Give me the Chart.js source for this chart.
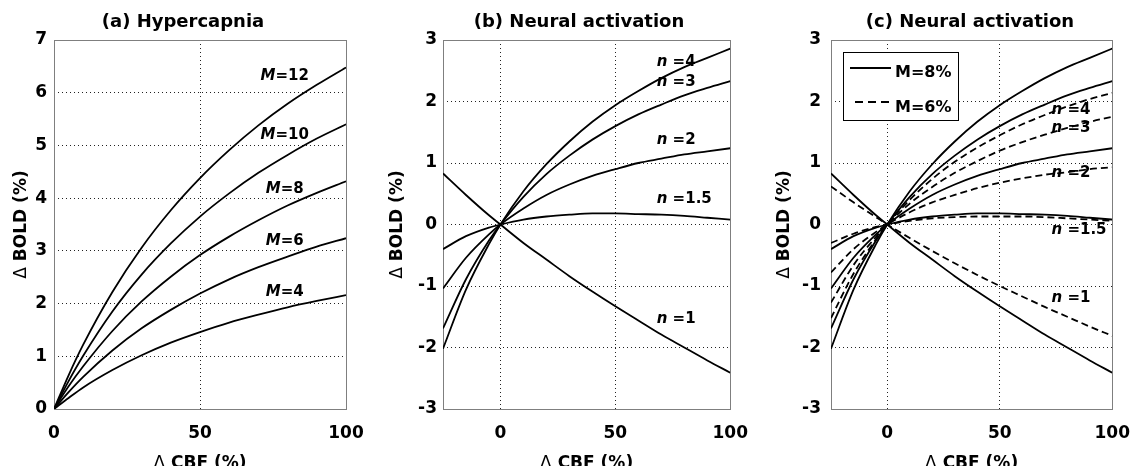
<!DOCTYPE html>
<html>
<head>
<meta charset="utf-8">
<script src="https://cdn.jsdelivr.net/npm/chart.js@4.4.1/dist/chart.umd.min.js"></script>
<style>
  html, body { margin: 0; padding: 0; background: #fff; }
  body { width: 1144px; height: 466px; position: relative; overflow: hidden; }
  canvas { position: absolute; top: 0; }
</style>
</head>
<body>
<canvas id="panelA" width="381" height="466" style="left:0px"></canvas>
<canvas id="panelB" width="381" height="466" style="left:381px"></canvas>
<canvas id="panelC" width="382" height="466" style="left:762px"></canvas>
<script>
// =========================
// DATA
// =========================
// (a) hypercapnia: delta CBF (%) vs delta BOLD (%) for several M
const cbfA = [0, 5, 10, 20, 30, 40, 50, 60, 70, 80, 90, 100];
const boldM4 = [0, 0.21, 0.41, 0.74, 1.02, 1.26, 1.46, 1.64, 1.79, 1.93, 2.05, 2.16];
const boldM6 = [0, 0.32, 0.61, 1.11, 1.53, 1.88, 2.19, 2.46, 2.69, 2.89, 3.08, 3.24];
const boldM8 = [0, 0.43, 0.81, 1.48, 2.04, 2.51, 2.92, 3.27, 3.58, 3.86, 4.10, 4.32];
const boldM10 = [0, 0.53, 1.01, 1.85, 2.55, 3.14, 3.65, 4.09, 4.48, 4.82, 5.13, 5.40];
const boldM12 = [0, 0.64, 1.22, 2.22, 3.06, 3.77, 4.38, 4.91, 5.38, 5.79, 6.15, 6.48];

// (b), (c) neural activation: curves for coupling ratio n
const cbfB = [-25, -15, -5, 0, 10, 20, 30, 40, 50, 60, 70, 80, 90, 100];
// M = 8%
const n1M8 = [0.83, 0.48, 0.15, 0, -0.30, -0.57, -0.84, -1.09, -1.33, -1.56, -1.79, -2.00, -2.21, -2.41];
const n15M8 = [-0.40, -0.19, -0.05, 0, 0.08, 0.13, 0.16, 0.18, 0.18, 0.17, 0.16, 0.14, 0.11, 0.08];
const n2M8 = [-1.04, -0.54, -0.16, 0, 0.26, 0.48, 0.65, 0.79, 0.90, 1.00, 1.07, 1.14, 1.19, 1.24];
const n3M8 = [-1.69, -0.89, -0.26, 0, 0.45, 0.82, 1.12, 1.38, 1.60, 1.79, 1.95, 2.10, 2.22, 2.33];
const n4M8 = [-2.02, -1.06, -0.32, 0, 0.54, 0.98, 1.35, 1.67, 1.94, 2.17, 2.38, 2.56, 2.71, 2.86];
// M = 6%
const n1M6 = [0.62, 0.36, 0.12, 0, -0.22, -0.43, -0.63, -0.82, -1.00, -1.17, -1.34, -1.50, -1.66, -1.81];
const n15M6 = [-0.30, -0.15, -0.04, 0, 0.06, 0.10, 0.12, 0.13, 0.13, 0.13, 0.12, 0.10, 0.08, 0.06];
const n2M6 = [-0.78, -0.40, -0.12, 0, 0.20, 0.36, 0.48, 0.59, 0.68, 0.75, 0.81, 0.85, 0.90, 0.93];
const n3M6 = [-1.27, -0.66, -0.20, 0, 0.34, 0.61, 0.84, 1.03, 1.20, 1.34, 1.46, 1.57, 1.67, 1.75];
const n4M6 = [-1.52, -0.80, -0.24, 0, 0.40, 0.74, 1.02, 1.25, 1.45, 1.63, 1.78, 1.92, 2.04, 2.14];

// tick labels
const xTicksA = [0, 50, 100];
const yTicksA = [0, 1, 2, 3, 4, 5, 6, 7];
const xTicksB = [0, 50, 100];
const yTicksB = [-3, -2, -1, 0, 1, 2, 3];

// curve labels (text + anchor in data units)
const labelsA = ["12", "10", "8", "6", "4"];
const labelXA = [79, 79, 79, 79, 79];
const labelYA = [6.31, 5.19, 4.18, 3.19, 2.22];
const labelsN = ["4", "3", "2", "1.5", "1"];
const labelXB = [68, 68, 68, 68, 68];
const labelYB = [2.64, 2.31, 1.37, 0.42, -1.54];
const labelXC = [73, 73, 73, 73, 73];
const labelYC = [1.86, 1.56, 0.83, -0.09, -1.20];

const legendNames = ["M=8%", "M=6%"];

// =========================
// HELPERS
// =========================
const FAMILY = '"DejaVu Sans", sans-serif';
const font = (size, style) => (style || "") + " bold " + size + "px " + FAMILY;

const pts = (xs, ys) => xs.map((x, i) => ({ x: x, y: ys[i] }));

const curve = (xs, ys, dashed) => ({
    data: pts(xs, ys),
    borderColor: "#000",
    borderWidth: 1.8,
    borderDash: dashed ? [7, 4] : [],
    pointRadius: 0,
    fill: false,
    cubicInterpolationMode: "monotone"
});

// draw a run of text pieces with different fonts
const drawParts = (ctx, parts, x, y, align) => {
    let total = 0;
    parts.forEach(p => { ctx.font = p.font; p.w = ctx.measureText(p.text).width; total += p.w; });
    let cx = align === "center" ? x - total / 2 : x;
    ctx.textAlign = "left";
    parts.forEach(p => { ctx.font = p.font; ctx.fillText(p.text, cx, y); cx += p.w; });
};

const axisCfg = (min, max, ticks, pad, fitSize, horizontal) => ({
    type: "linear",
    min: min,
    max: max,
    afterBuildTicks: s => { s.ticks = ticks.map(v => ({ value: v })); },
    afterFit: s => { if (horizontal) s.height = fitSize; else s.width = fitSize; },
    ticks: {
        color: "#000",
        padding: pad,
        autoSkip: false,
        maxRotation: 0,
        font: { family: FAMILY, size: 17, weight: "bold" }
    },
    grid: {
        drawTicks: false,
        lineWidth: 1,
        color: c => (c.tick && (c.tick.value === min || c.tick.value === max)) ? "rgba(0,0,0,0)" : "#222"
    },
    border: { display: false, dash: [1, 3] }
});

// titles, frame, curve labels, legend
const panelDecor = {
    id: "panelDecor",
    beforeDatasetsDraw(chart, args, o) {
        const { ctx, chartArea: a } = chart;
        ctx.save();
        ctx.strokeStyle = "#7f7f7f";
        ctx.lineWidth = 1;
        ctx.strokeRect(Math.round(a.left) + 0.5, Math.round(a.top) + 0.5,
            Math.round(a.right - a.left), Math.round(a.bottom - a.top));
        ctx.restore();
    },
    afterDatasetsDraw(chart, args, o) {
        const { ctx } = chart;
        const xs = chart.scales.x, ys = chart.scales.y;
        ctx.save();
        ctx.fillStyle = "#000";
        ctx.textBaseline = "middle";
        o.labels.forEach((t, i) => {
            drawParts(ctx, [
                { text: o.sym, font: font(15, "italic") },
                { text: o.sep + t, font: font(15) }
            ], xs.getPixelForValue(o.lx[i]), ys.getPixelForValue(o.ly[i]), o.align);
        });
        ctx.restore();
    },
    afterDraw(chart, args, o) {
        const { ctx, chartArea: a } = chart;
        ctx.save();
        ctx.fillStyle = "#000";
        // panel title
        ctx.textBaseline = "alphabetic";
        ctx.textAlign = "center";
        ctx.font = font(18);
        ctx.fillText(o.title, o.titleX, 27);
        // x title
        const cx = (a.left + a.right) / 2;
        drawParts(ctx, [
            { text: "\u0394", font: "17px " + FAMILY },
            { text: " CBF (%)", font: font(17) }
        ], cx, 468, "center");
        // y title
        ctx.translate(o.yTitleX, (a.top + a.bottom) / 2);
        ctx.rotate(-Math.PI / 2);
        ctx.textBaseline = "middle";
        drawParts(ctx, [
            { text: "\u0394", font: "17px " + FAMILY },
            { text: " BOLD (%)", font: font(17) }
        ], 0, 0, "center");
        ctx.restore();

        if (o.legend) {
            const bx = Math.round(a.left) + 12, by = Math.round(a.top) + 12;
            ctx.save();
            ctx.fillStyle = "#fff";
            ctx.fillRect(bx, by, 115, 68);
            ctx.strokeStyle = "#000";
            ctx.lineWidth = 1;
            ctx.strokeRect(bx + 0.5, by + 0.5, 115, 68);
            ctx.lineWidth = 1.8;
            ctx.beginPath(); ctx.moveTo(bx + 7, by + 16); ctx.lineTo(bx + 48, by + 16); ctx.stroke();
            ctx.setLineDash([8, 5]);
            ctx.beginPath(); ctx.moveTo(bx + 12, by + 50); ctx.lineTo(bx + 48, by + 50); ctx.stroke();
            ctx.setLineDash([]);
            ctx.fillStyle = "#000";
            ctx.font = font(16);
            ctx.textAlign = "left";
            ctx.textBaseline = "middle";
            ctx.fillText(legendNames[0], bx + 52, by + 21);
            ctx.fillText(legendNames[1], bx + 52, by + 56);
            ctx.restore();
        }
    }
};

const makePanel = (id, datasets, cfg) => new Chart(document.getElementById(id), {
    type: "line",
    data: { datasets: datasets },
    options: {
        responsive: false,
        animation: false,
        events: [],
        layout: { padding: { left: 0, right: cfg.padRight, top: 40, bottom: 0 } },
        scales: {
            x: axisCfg(cfg.xMin, cfg.xMax, cfg.xTicks, 14, 57, true),
            y: axisCfg(cfg.yMin, cfg.yMax, cfg.yTicks, cfg.yPad, cfg.padLeft, false)
        },
        plugins: {
            legend: { display: false },
            tooltip: { enabled: false },
            panelDecor: cfg.decor
        }
    },
    plugins: [panelDecor]
});

// =========================
// PANELS
// =========================
makePanel("panelA", [
    curve(cbfA, boldM12), curve(cbfA, boldM10), curve(cbfA, boldM8),
    curve(cbfA, boldM6), curve(cbfA, boldM4)
], {
    xMin: 0, xMax: 100, yMin: 0, yMax: 7, xTicks: xTicksA, yTicks: yTicksA,
    padLeft: 54, padRight: 35, yPad: 7,
    decor: {
        title: "(a) Hypercapnia", titleX: 183, yTitleX: 22,
        labels: labelsA, lx: labelXA, ly: labelYA, sym: "M", sep: "=", align: "center"
    }
});

makePanel("panelB", [
    curve(cbfB, n4M8), curve(cbfB, n3M8), curve(cbfB, n2M8),
    curve(cbfB, n15M8), curve(cbfB, n1M8)
], {
    xMin: -25, xMax: 100, yMin: -3, yMax: 3, xTicks: xTicksB, yTicks: yTicksB,
    padLeft: 62, padRight: 27, yPad: 6,
    decor: {
        title: "(b) Neural activation", titleX: 198, yTitleX: 17,
        labels: labelsN, lx: labelXB, ly: labelYB, sym: "n", sep: " =", align: "left"
    }
});

makePanel("panelC", [
    curve(cbfB, n4M8), curve(cbfB, n3M8), curve(cbfB, n2M8),
    curve(cbfB, n15M8), curve(cbfB, n1M8),
    curve(cbfB, n4M6, true), curve(cbfB, n3M6, true), curve(cbfB, n2M6, true),
    curve(cbfB, n15M6, true), curve(cbfB, n1M6, true)
], {
    xMin: -25, xMax: 100, yMin: -3, yMax: 3, xTicks: xTicksB, yTicks: yTicksB,
    padLeft: 69, padRight: 20, yPad: 10,
    decor: {
        title: "(c) Neural activation", titleX: 208, yTitleX: 23,
        labels: labelsN, lx: labelXC, ly: labelYC, sym: "n", sep: " =", align: "left",
        legend: true
    }
});
</script>
</body>
</html>
